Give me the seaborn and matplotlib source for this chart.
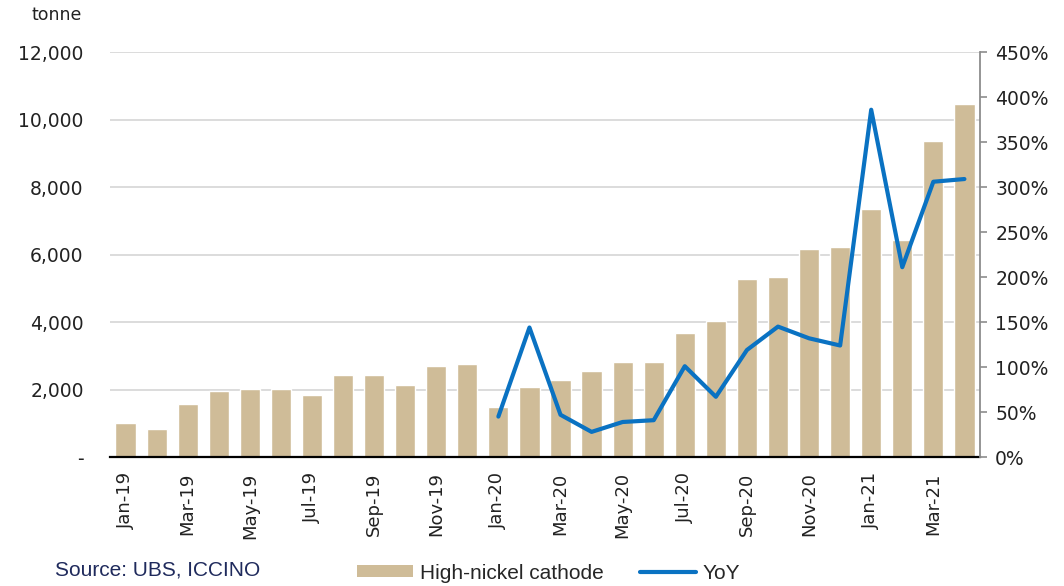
import numpy as np
import pandas as pd
import matplotlib
matplotlib.use("Agg")
import matplotlib.pyplot as plt
import matplotlib.ticker as mticker
from matplotlib.patches import Patch
from matplotlib.lines import Line2D
import seaborn as sns

months = ["Jan-19", "Feb-19", "Mar-19", "Apr-19", "May-19", "Jun-19", "Jul-19",
          "Aug-19", "Sep-19", "Oct-19", "Nov-19", "Dec-19",
          "Jan-20", "Feb-20", "Mar-20", "Apr-20", "May-20", "Jun-20", "Jul-20",
          "Aug-20", "Sep-20", "Oct-20", "Nov-20", "Dec-20",
          "Jan-21", "Feb-21", "Mar-21", "Apr-21"]
cathode_t = [1010, 820, 1560, 1950, 2010, 2010, 1830, 2430, 2430, 2150, 2700, 2750,
             1490, 2090, 2280, 2560, 2810, 2810, 3690, 4020, 5290, 5350, 6160, 6240,
             7360, 6420, 9370, 10450]
yoy_months = months[12:]
yoy_pct = [45, 144, 47, 28, 39, 41, 101, 67, 119, 145, 132, 124, 386, 211, 306, 309]

BAR_COLOR = "#CFBC98"
LINE_COLOR = "#0A72C2"
TICK_FONT = ["DejaVu Sans"]
NOTE_FONT = ["Liberation Sans Narrow", "Liberation Sans", "DejaVu Sans"]

sns.set_theme(style="white")
plt.rcParams["font.family"] = TICK_FONT

df = pd.DataFrame({"month": months, "tonne": cathode_t})
yoy = pd.DataFrame({"month": yoy_months, "yoy": yoy_pct})
yoy["pos"] = [months.index(m) for m in yoy_months]

fig = plt.figure(figsize=(10.64, 5.86), dpi=100)
ax = fig.add_axes([0.1034, 0.22, 0.8176, 0.691])

sns.barplot(data=df, x="month", y="tonne", color=BAR_COLOR, width=0.65,
            saturation=1, ax=ax)
ax.set_xlim(-0.5, len(months) - 0.5)
ax.set_ylim(0, 12000)
ax.set_yticks(range(0, 12001, 2000))
ax.yaxis.set_major_formatter(mticker.FuncFormatter(
    lambda v, p: "-" if v == 0 else f"{int(v):,}"))
ax.yaxis.grid(True, color="#D9D9D9", linewidth=1.3)
ax.set_axisbelow(True)
ax.set_xlabel("")
ax.set_ylabel("")
ax.set_xticks(range(0, len(months), 2))
ax.set_xticklabels(months[::2], rotation=90, fontsize=13, color="#222222")
ax.tick_params(axis="y", length=0, pad=19, labelsize=13.5, labelcolor="#222222")
ax.tick_params(axis="x", length=0, pad=11)
for s in ["top", "right", "left"]:
    ax.spines[s].set_visible(False)
ax.spines["bottom"].set_color("black")
ax.spines["bottom"].set_linewidth(1.6)

ax2 = ax.twinx()
sns.lineplot(data=yoy, x="pos", y="yoy", color=LINE_COLOR, linewidth=3, ax=ax2)
ax2.set_ylim(0, 450)
ax2.set_yticks(range(0, 451, 50))
ax2.yaxis.set_major_formatter(mticker.FuncFormatter(lambda v, p: f"{int(v)}%"))
ax2.set_xlim(-0.5, len(months) - 0.5)
ax2.set_ylabel("")
ax2.set_xlabel("")
for s in ["top", "left", "bottom"]:
    ax2.spines[s].set_visible(False)
ax2.spines["right"].set_color("#8C8C8C")
ax2.spines["right"].set_linewidth(1.3)
ax2.tick_params(axis="y", direction="out", length=5, width=1.2, color="#8C8C8C",
                labelsize=13.5, labelcolor="#222222", pad=6, right=True)

fig.text(0.030, 0.99, "tonne", fontsize=12.5, color="#222222", va="top")
fig.text(0.052, 0.027, "Source: UBS, ICCINO", fontsize=15, color="#1F2A5C",
         family=NOTE_FONT, va="center")

handles = [Patch(facecolor=BAR_COLOR, edgecolor="none"),
           Line2D([0], [0], color=LINE_COLOR, linewidth=3)]
fig.legend(handles, ["High-nickel cathode", "YoY"], loc="center left",
           bbox_to_anchor=(0.318, 0.022), ncol=2, frameon=False,
           prop={"family": NOTE_FONT, "size": 15},
           handlelength=2.7, handleheight=0.5, columnspacing=1.7, handletextpad=0.34)

fig.savefig("out.png", dpi=100)
